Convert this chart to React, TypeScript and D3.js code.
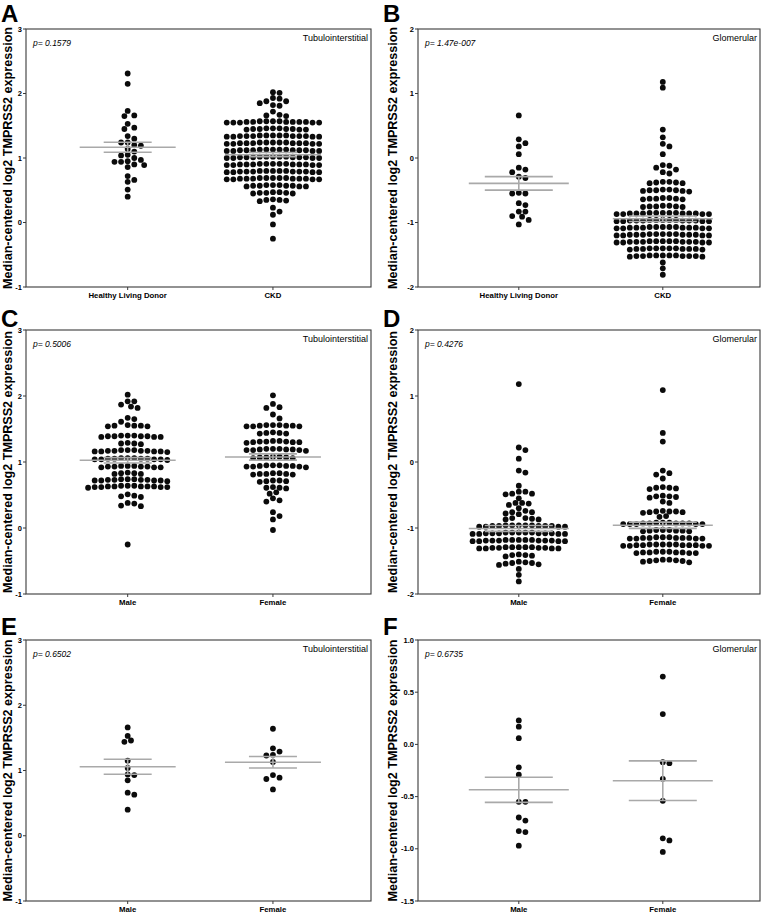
import React from 'react';
import * as d3 from 'd3';

const FONT = "'Liberation Sans', Arial, Helvetica, sans-serif";

// ---------- labels ----------
const panelLetters = ['A', 'B', 'C', 'D', 'E', 'F'];
const regionNames = ['Tubulointerstitial', 'Glomerular', 'Tubulointerstitial', 'Glomerular', 'Tubulointerstitial', 'Glomerular'];
const pLabels = ['p= 0.1579', 'p= 1.47e-007', 'p= 0.5006', 'p= 0.4276', 'p= 0.6502', 'p= 0.6735'];
const donorGroups = ['Healthy Living Donor', 'CKD'];
const sexGroups = ['Male', 'Female'];
const yAxisTitle = 'Median-centered log2 TMPRSS2 expression';
const ticksTub = [-1, 0, 1, 2, 3];
const ticksGlom = [-2, -1, 0, 1, 2];
const ticksGlomSmall = [-1.5, -1.0, -0.5, 0.0, 0.5, 1.0];

// ---------- A: tubulointerstitial, donor vs CKD ----------
const tubHealthy = [2.31, 2.15, 1.73, 1.66, 1.65, 1.53, 1.47, 1.45, 1.34, 1.30, 1.24, 1.24, 1.20, 1.19, 1.14, 1.10, 1.05, 1.04, 1.00, 0.97, 0.95, 0.94, 0.94, 0.90, 0.89, 0.86, 0.72, 0.66, 0.63, 0.51, 0.40];
const tubCKD = [
  2.02, 2.01, 1.93, 1.92, 1.88, 1.88, 1.85, 1.82, 1.81, 1.72, 1.67, 1.66, 1.65,
  1.57, 1.57, 1.56, 1.57, 1.56, 1.55, 1.56, 1.55, 1.56, 1.55, 1.57, 1.56, 1.55, 1.56, 1.55,
  1.46, 1.45, 1.46, 1.44, 1.45, 1.46, 1.45, 1.44, 1.45, 1.44,
  1.35, 1.34, 1.35, 1.33, 1.34, 1.35, 1.34, 1.33, 1.34, 1.35, 1.33, 1.34, 1.33, 1.35, 1.34,
  1.24, 1.23, 1.24, 1.22, 1.23, 1.24, 1.23, 1.22, 1.23, 1.24, 1.22, 1.23, 1.22, 1.23, 1.24,
  1.13, 1.12, 1.13, 1.11, 1.12, 1.13, 1.12, 1.11, 1.12, 1.13, 1.11, 1.12, 1.11, 1.12, 1.13,
  1.02, 1.01, 1.02, 1.00, 1.01, 1.02, 1.01, 1.00, 1.01, 1.02, 1.00, 1.01, 1.00, 1.01, 1.02,
  0.91, 0.90, 0.91, 0.89, 0.90, 0.91, 0.90, 0.89, 0.90, 0.91, 0.89, 0.90, 0.89, 0.90, 0.91,
  0.80, 0.79, 0.80, 0.78, 0.79, 0.80, 0.79, 0.78, 0.79, 0.80, 0.78, 0.79, 0.78, 0.79, 0.80,
  0.69, 0.68, 0.69, 0.67, 0.68, 0.69, 0.68, 0.67, 0.68, 0.69, 0.67, 0.68, 0.67, 0.68, 0.69,
  0.58, 0.57, 0.58, 0.56, 0.57, 0.58, 0.57, 0.56, 0.57, 0.56,
  0.47, 0.46, 0.47, 0.45, 0.46, 0.45, 0.46,
  0.36, 0.35, 0.35, 0.34, 0.33,
  0.23, 0.17, 0.12, -0.03, -0.25,
];

// ---------- B: glomerular, donor vs CKD ----------
const glomHealthy = [0.66, 0.29, 0.23, 0.18, 0.06, -0.15, -0.18, -0.22, -0.29, -0.31, -0.54, -0.55, -0.55, -0.70, -0.73, -0.83, -0.83, -0.90, -0.91, -0.96, -1.03];
const glomCKD = [
  1.18, 1.09, 0.44, 0.32, 0.22, 0.18, 0.06, -0.11, -0.12, -0.15, -0.18, -0.22, -0.24,
  -0.37, -0.37, -0.38, -0.38, -0.39, -0.39,
  -0.49, -0.49, -0.50, -0.50, -0.50, -0.51, -0.51, -0.52,
  -0.62, -0.62, -0.63, -0.63, -0.63, -0.64, -0.64,
  -0.74, -0.74, -0.75, -0.75, -0.75, -0.76, -0.76,
  -0.85, -0.85, -0.86, -0.85, -0.86, -0.87, -0.85, -0.86, -0.87, -0.86, -0.85, -0.87, -0.86, -0.87, -0.86,
  -0.96, -0.96, -0.97, -0.96, -0.97, -0.98, -0.96, -0.97, -0.98, -0.97, -0.96, -0.98, -0.97, -0.98, -0.97,
  -1.07, -1.07, -1.08, -1.07, -1.08, -1.09, -1.07, -1.08, -1.09, -1.08, -1.07, -1.09, -1.08, -1.09, -1.08,
  -1.18, -1.18, -1.19, -1.18, -1.19, -1.20, -1.18, -1.19, -1.20, -1.19, -1.18, -1.20, -1.19, -1.20, -1.19,
  -1.29, -1.29, -1.30, -1.29, -1.30, -1.31, -1.29, -1.30, -1.31, -1.30, -1.29, -1.31, -1.30, -1.31, -1.30,
  -1.40, -1.40, -1.41, -1.40, -1.41, -1.42, -1.40, -1.41, -1.42, -1.41, -1.40, -1.41,
  -1.51, -1.51, -1.52, -1.51, -1.52, -1.53, -1.51, -1.52, -1.53, -1.52, -1.51, -1.52,
  -1.62, -1.71, -1.81,
];

// ---------- C: tubulointerstitial, male vs female ----------
const tubMale = [
  2.02, 1.92, 1.92, 1.87, 1.84, 1.82, 1.67, 1.65, 1.61,
  1.56, 1.55, 1.55, 1.54, 1.55, 1.54,
  1.40, 1.39, 1.40, 1.38, 1.39, 1.40, 1.39, 1.38, 1.39, 1.38,
  1.29, 1.28, 1.28, 1.27,
  1.18, 1.17, 1.18, 1.16, 1.17, 1.18, 1.17, 1.16, 1.17, 1.16, 1.15, 1.16,
  1.06, 1.05, 1.06, 1.04, 1.05, 1.06, 1.05, 1.04, 1.05, 1.04, 1.03, 1.04,
  0.94, 0.93, 0.94, 0.92, 0.93, 0.94, 0.93, 0.92, 0.93, 0.92,
  0.84, 0.83, 0.83, 0.82, 0.82,
  0.74, 0.73, 0.74, 0.72, 0.73, 0.74, 0.73, 0.72, 0.73, 0.72, 0.71, 0.72,
  0.64, 0.63, 0.64, 0.62, 0.63, 0.64, 0.63, 0.62, 0.63, 0.62, 0.61, 0.62, 0.63,
  0.51, 0.49, 0.48, 0.47,
  0.38, 0.37, 0.34, 0.33,
  -0.25,
];
const tubFemale = [
  2.01, 1.88, 1.83, 1.82, 1.72, 1.66,
  1.56, 1.55, 1.56, 1.54, 1.55, 1.56, 1.54, 1.55, 1.54,
  1.45, 1.44, 1.44, 1.43, 1.43,
  1.32, 1.31, 1.32, 1.30, 1.31, 1.30, 1.31, 1.30, 1.29,
  1.20, 1.19, 1.20, 1.18, 1.19, 1.20, 1.19, 1.18, 1.18, 1.17,
  1.08, 1.07, 1.08, 1.06, 1.07, 1.07, 1.06,
  0.95, 0.94, 0.95, 0.93, 0.94, 0.95, 0.94, 0.93, 0.93, 0.92,
  0.83, 0.82, 0.83, 0.81, 0.82, 0.82, 0.81,
  0.72, 0.71, 0.72, 0.71, 0.70,
  0.62, 0.61, 0.61, 0.60,
  0.54, 0.52, 0.45, 0.42, 0.40, 0.24, 0.18, 0.13, -0.03,
];

// ---------- D: glomerular, male vs female ----------
const glomMale = [
  1.18, 0.22, 0.18, 0.05, -0.13, -0.16, -0.36,
  -0.45, -0.45, -0.48, -0.48, -0.49, -0.55,
  -0.62, -0.62, -0.63, -0.65, -0.70,
  -0.74, -0.76, -0.76, -0.78, -0.79,
  -0.85, -0.85, -0.86, -0.87, -0.87,
  -0.96, -0.97, -0.96, -0.98, -0.97, -0.96, -0.97, -0.98, -0.96, -0.97, -0.98, -0.97, -0.96, -0.98,
  -1.07, -1.08, -1.07, -1.09, -1.08, -1.07, -1.08, -1.09, -1.07, -1.08, -1.09, -1.08, -1.07, -1.09, -1.08,
  -1.18, -1.19, -1.18, -1.20, -1.19, -1.18, -1.19, -1.20, -1.18, -1.19, -1.20, -1.19, -1.18, -1.20, -1.19,
  -1.29, -1.30, -1.29, -1.31, -1.30, -1.29, -1.30, -1.31, -1.29, -1.30, -1.31, -1.29, -1.31,
  -1.40, -1.41, -1.41, -1.42, -1.43,
  -1.51, -1.52, -1.53, -1.53, -1.54, -1.55, -1.56,
  -1.62, -1.71, -1.81,
];
const glomFemale = [
  1.09, 0.44, 0.31,
  -0.13, -0.17, -0.19, -0.25,
  -0.38, -0.39, -0.39, -0.40, -0.41,
  -0.51, -0.52, -0.52, -0.53, -0.54,
  -0.60, -0.62,
  -0.74, -0.75, -0.75, -0.75, -0.76, -0.76, -0.77,
  -0.82, -0.83,
  -0.92, -0.93, -0.92, -0.94, -0.93, -0.92, -0.93, -0.94, -0.93, -0.94, -0.93, -0.94, -0.94,
  -1.03, -1.04, -1.03, -1.05, -1.04, -1.03, -1.04, -1.05,
  -1.14, -1.15, -1.14, -1.16, -1.15, -1.14, -1.15, -1.16, -1.15, -1.16, -1.15, -1.16,
  -1.25, -1.26, -1.25, -1.27, -1.26, -1.25, -1.26, -1.27, -1.25, -1.26, -1.27, -1.25, -1.26, -1.27,
  -1.36, -1.37, -1.36, -1.38, -1.37, -1.36, -1.37, -1.38, -1.37, -1.38,
  -1.48, -1.48, -1.49, -1.49, -1.50, -1.50, -1.51, -1.52,
];

// ---------- E: tubulointerstitial, healthy donors by sex ----------
const donorTubMale = [1.66, 1.53, 1.46, 1.44, 1.15, 1.04, 0.94, 0.93, 0.85, 0.66, 0.63, 0.40];
const donorTubFemale = [1.64, 1.34, 1.29, 1.24, 1.23, 1.13, 0.93, 0.89, 0.87, 0.71];

// ---------- F: glomerular, healthy donors by sex ----------
const donorGlomMale = [0.23, 0.17, 0.06, -0.22, -0.29, -0.55, -0.55, -0.70, -0.73, -0.83, -0.84, -0.97];
const donorGlomFemale = [0.65, 0.29, -0.17, -0.18, -0.33, -0.54, -0.90, -0.92, -1.03];

const panelData = [
  { groups: [tubHealthy, tubCKD], cats: donorGroups, ticks: ticksTub, dec: 0 },
  { groups: [glomHealthy, glomCKD], cats: donorGroups, ticks: ticksGlom, dec: 0 },
  { groups: [tubMale, tubFemale], cats: sexGroups, ticks: ticksTub, dec: 0 },
  { groups: [glomMale, glomFemale], cats: sexGroups, ticks: ticksGlom, dec: 0 },
  { groups: [donorTubMale, donorTubFemale], cats: sexGroups, ticks: ticksTub, dec: 0 },
  { groups: [donorGlomMale, donorGlomFemale], cats: sexGroups, ticks: ticksGlomSmall, dec: 1 },
];

// ---------- layout ----------
const COLS = [
  { x0: 26, x1: 371, label: 11.5, letter: 1, meanHalf: 48, semHalf: 24 },
  { x0: 418, x1: 760, label: 396.5, letter: 383, meanHalf: 50, semHalf: 34 },
];
const ROWS = [
  { y0: 29, y1: 287, letter: 22 },
  { y0: 330, y1: 594, letter: 327 },
  { y0: 640, y1: 901, letter: 635 },
];
const R = 2.9;
const STEP = 6.6;
const DMIN = 5.6;

type P = { v: number; y: number; dx: number };

function swarm(vals: number[], y: (v: number) => number): P[] {
  const pts: P[] = vals.map((v) => ({ v, y: y(v), dx: 0 })).sort((a, b) => a.y - b.y);
  const offsets: number[] = [0];
  for (let k = 1; k <= 60; k++) offsets.push((k * STEP) / 2, (-k * STEP) / 2);
  const placed: P[] = [];
  for (const p of pts) {
    for (const o of offsets) {
      let ok = true;
      for (const q of placed) {
        const dy = p.y - q.y;
        if (Math.abs(dy) >= DMIN) continue;
        const dx = o - q.dx;
        if (dx * dx + dy * dy < DMIN * DMIN) { ok = false; break; }
      }
      if (ok) { p.dx = o; break; }
    }
    placed.push(p);
  }
  return pts;
}

function Panel({ idx }: { idx: number }) {
  const col = COLS[idx % 2];
  const row = ROWS[Math.floor(idx / 2)];
  const pd = panelData[idx];
  const ext = d3.extent(pd.ticks) as [number, number];
  const y = d3.scaleLinear().domain(ext).range([row.y1, row.y0]);
  const x = d3.scaleLinear().domain([0.3, 2.675]).range([col.x0, col.x1]);
  const lineCol = '#a9a9a9';
  return (
    <g>
      <text x={col.letter} y={row.letter} fontSize={24} fontWeight="bold" fontFamily={FONT}>{panelLetters[idx]}</text>
      <text
        transform={`translate(${col.label},${(row.y0 + row.y1) / 2}) rotate(-90)`}
        textAnchor="middle" fontSize={12} fontWeight="bold" fontFamily={FONT}
        textLength={262} lengthAdjust="spacingAndGlyphs"
      >{yAxisTitle}</text>
      <rect x={col.x0} y={row.y0} width={col.x1 - col.x0} height={row.y1 - row.y0} fill="none" stroke="#3a3a3a" strokeWidth={1.1} />
      {pd.ticks.map((t) => (
        <g key={t}>
          <line x1={col.x0 - 3} x2={col.x0} y1={y(t)} y2={y(t)} stroke="#3a3a3a" strokeWidth={1} />
          <text x={col.x0 - 4} y={y(t)} dy="0.35em" textAnchor="end" fontSize={7.5} fontWeight="bold" fontFamily={FONT}>{t.toFixed(pd.dec)}</text>
        </g>
      ))}
      {pd.cats.map((c, i) => (
        <g key={c}>
          <line x1={x(i + 1)} x2={x(i + 1)} y1={row.y1} y2={row.y1 + 3} stroke="#3a3a3a" strokeWidth={1} />
          <text x={x(i + 1)} y={row.y1 + 11} textAnchor="middle" fontSize={7.8} fontWeight="bold" fontFamily={FONT}>{c}</text>
        </g>
      ))}
      <text x={col.x0 + 7} y={row.y0 + 17} fontSize={8.5} fontStyle="italic" fontFamily={FONT}>{pLabels[idx]}</text>
      <text x={col.x1 - 3} y={row.y0 + 12} textAnchor="end" fontSize={9} fontFamily={FONT}>{regionNames[idx]}</text>
      {pd.groups.map((vals, i) => {
        const cx = x(i + 1);
        const pts = swarm(vals, y);
        const m = d3.mean(vals) as number;
        const sem = (d3.deviation(vals) as number) / Math.sqrt(vals.length);
        return (
          <g key={i}>
            {pts.map((p, j) => (
              <circle key={j} cx={cx + p.dx} cy={p.y} r={R} fill="#0b0b0b" />
            ))}
            <line x1={cx - col.meanHalf} x2={cx + col.meanHalf} y1={y(m)} y2={y(m)} stroke={lineCol} strokeWidth={1.6} />
            <line x1={cx - col.semHalf} x2={cx + col.semHalf} y1={y(m + sem)} y2={y(m + sem)} stroke={lineCol} strokeWidth={1.6} />
            <line x1={cx - col.semHalf} x2={cx + col.semHalf} y1={y(m - sem)} y2={y(m - sem)} stroke={lineCol} strokeWidth={1.6} />
            <line x1={cx} x2={cx} y1={y(m + sem)} y2={y(m - sem)} stroke={lineCol} strokeWidth={1.6} />
          </g>
        );
      })}
    </g>
  );
}

export default function App() {
  return (
    <svg width={763} height={913} style={{ position: 'absolute', left: 0, top: 0, background: '#fff' }}>
      <rect width={763} height={913} fill="#fff" />
      {panelLetters.map((_, i) => <Panel key={i} idx={i} />)}
    </svg>
  );
}
